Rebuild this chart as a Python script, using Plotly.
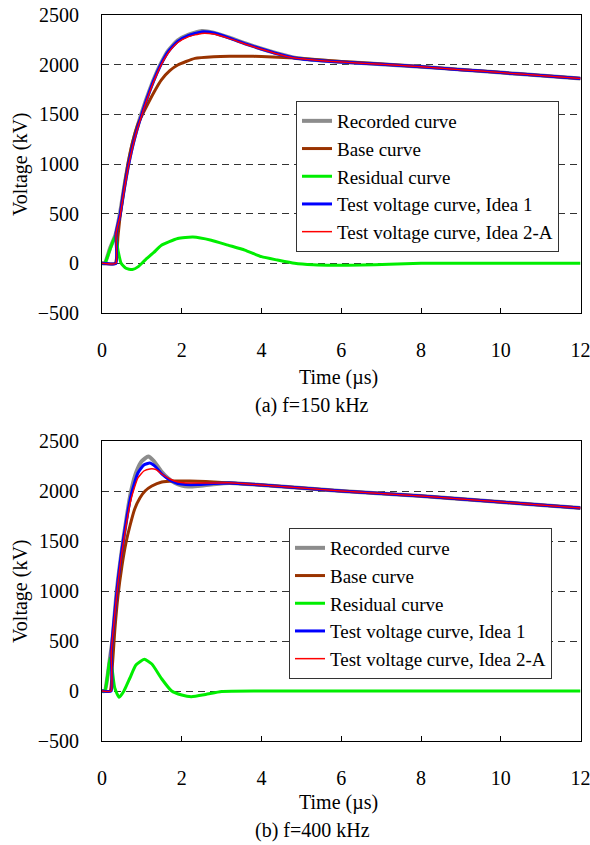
import plotly.graph_objects as go

FONT = "Liberation Serif, Times New Roman, serif"
W, H = 590, 845    # figure size (page body margin removed below)

# ---------------- (a) f = 150 kHz ----------------
a_rec_t = [0, 0.07, 0.2, 0.34, 0.45, 0.55, 0.66, 0.8, 1.0, 1.2, 1.37, 1.5, 1.66, 1.9, 2.16, 2.5, 2.8, 3.2, 3.6, 4.0, 4.4, 4.83, 5.5, 6, 7, 8, 9, 10, 11, 12]
a_rec_v = [0, 0, 150, 290, 500, 750, 1000, 1250, 1520, 1750, 1920, 2030, 2140, 2245, 2300, 2338, 2322, 2272, 2213, 2160, 2113, 2070, 2042, 2028, 2005, 1980, 1950, 1920, 1890, 1860]

a_base_t = [0, 0.33, 0.4, 0.45, 0.55, 0.66, 0.76, 0.9, 1.08, 1.3, 1.49, 1.7, 1.9, 2.33, 2.8, 3.2, 3.6, 4.0, 4.83, 5.5, 6, 7, 8, 9, 10, 11, 12]
a_base_v = [0, 0, 270, 460, 750, 1020, 1210, 1400, 1550, 1720, 1847, 1940, 1997, 2063, 2080, 2085, 2085, 2082, 2067, 2048, 2033, 2006, 1980, 1950, 1920, 1890, 1860]

a_res_t = [0, 0.07, 0.2, 0.34, 0.4, 0.48, 0.6, 0.76, 0.91, 1.08, 1.3, 1.49, 1.9, 2.28, 2.74, 3.16, 3.58, 4.0, 4.4, 4.83, 5.3, 5.8, 6.5, 7.2, 8, 9, 10, 11, 12]
a_res_v = [0, 0, 140, 280, 133, 0, -50, -63, -33, 33, 110, 183, 250, 265, 233, 183, 133, 67, 33, 0, -15, -20, -18, -8, 0, 0, 0, 0, 0]

a_id1_t = [0, 0.35, 0.35, 0.45, 0.55, 0.66, 0.8, 1.0, 1.2, 1.37, 1.5, 1.66, 1.9, 2.16, 2.5, 2.8, 3.2, 3.6, 4.0, 4.4, 4.83, 5.5, 6, 7, 8, 9, 10, 11, 12]
a_id1_v = [0, 0, 300, 480, 730, 980, 1230, 1505, 1740, 1910, 2020, 2130, 2235, 2292, 2330, 2318, 2268, 2210, 2158, 2110, 2068, 2040, 2026, 2004, 1979, 1950, 1920, 1890, 1860]

a_id2_t = [0, 0.35, 0.35, 0.45, 0.55, 0.66, 0.8, 1.0, 1.2, 1.37, 1.5, 1.66, 1.9, 2.16, 2.5, 2.8, 3.2, 3.6, 4.0, 4.4, 4.83, 5.5, 6, 7, 8, 9, 10, 11, 12]
a_id2_v = [0, 0, 300, 470, 720, 970, 1220, 1495, 1730, 1900, 2010, 2118, 2223, 2280, 2315, 2308, 2262, 2206, 2155, 2108, 2067, 2040, 2026, 2004, 1979, 1950, 1920, 1890, 1860]

# ---------------- (b) f = 400 kHz ----------------
b_rec_t = [0, 0.07, 0.14, 0.2, 0.26, 0.37, 0.53, 0.73, 0.87, 1.0, 1.16, 1.3, 1.49, 1.65, 1.83, 2.0, 2.16, 2.4, 2.8, 3.2, 4, 5, 6, 7, 8, 9, 10, 11, 12]
b_rec_v = [0, 0, 150, 330, 500, 1000, 1500, 2000, 2200, 2300, 2345, 2300, 2195, 2130, 2080, 2055, 2045, 2050, 2068, 2080, 2060, 2030, 2000, 1975, 1950, 1920, 1890, 1860, 1830]

b_base_t = [0, 0.2, 0.26, 0.32, 0.4, 0.5, 0.6, 0.7, 0.82, 0.95, 1.08, 1.25, 1.5, 1.8, 2.2, 2.6, 3.2, 4, 5, 6, 7, 8, 9, 10, 11, 12]
b_base_v = [0, 0, 250, 600, 950, 1250, 1480, 1650, 1820, 1930, 2000, 2050, 2090, 2100, 2100, 2095, 2080, 2060, 2030, 2000, 1975, 1950, 1920, 1890, 1860, 1830]

b_res_t = [0, 0.07, 0.14, 0.2, 0.26, 0.32, 0.43, 0.55, 0.7, 0.85, 1.06, 1.25, 1.5, 1.74, 2.0, 2.24, 2.6, 3.0, 4, 12]
b_res_v = [0, 0, 150, 330, 200, 30, -63, 0, 130, 260, 317, 270, 120, 3, -40, -57, -35, -5, 0, 0]

b_id1_t = [0, 0.23, 0.23, 0.3, 0.4, 0.55, 0.73, 0.9, 1.05, 1.2, 1.35, 1.5, 1.7, 1.9, 2.1, 2.4, 2.8, 3.2, 4, 5, 6, 7, 8, 9, 10, 11, 12]
b_id1_v = [0, 0, 380, 700, 1100, 1550, 1960, 2180, 2260, 2280, 2240, 2170, 2110, 2075, 2065, 2065, 2075, 2080, 2060, 2030, 2000, 1975, 1950, 1920, 1890, 1860, 1830]

b_id2_t = [0, 0.23, 0.23, 0.3, 0.4, 0.55, 0.73, 0.9, 1.05, 1.2, 1.35, 1.5, 1.7, 1.9, 2.1, 2.4, 2.8, 3.2, 4, 5, 6, 7, 8, 9, 10, 11, 12]
b_id2_v = [0, 0, 380, 680, 1080, 1520, 1920, 2130, 2200, 2220, 2215, 2170, 2120, 2090, 2080, 2080, 2080, 2082, 2060, 2030, 2000, 1975, 1950, 1920, 1890, 1860, 1830]

names = ["Recorded curve", "Base curve", "Residual curve",
         "Test voltage curve, Idea 1", "Test voltage curve, Idea 2-A"]
colors = ["#8c8c8c", "#993300", "#00ee00", "#0000ff", "#ff0000"]
widths = [4, 3, 3, 3, 1.5]

y_ticks = [-500, 0, 500, 1000, 1500, 2000, 2500]
x_ticks = [0, 2, 4, 6, 8, 10, 12]

panel_a = [(a_rec_t, a_rec_v), (a_base_t, a_base_v), (a_res_t, a_res_v),
           (a_id1_t, a_id1_v), (a_id2_t, a_id2_v)]
panel_b = [(b_rec_t, b_rec_v), (b_base_t, b_base_v), (b_res_t, b_res_v),
           (b_id1_t, b_id1_v), (b_id2_t, b_id2_v)]

fig = go.Figure()
for panel, xa, ya, leg in [(panel_a, "x", "y", "legend"), (panel_b, "x2", "y2", "legend2")]:
    for (t, v), nm, c, w in zip(panel, names, colors, widths):
        fig.add_trace(go.Scatter(x=t, y=v, mode="lines", name=nm,
                                 line=dict(color=c, width=w, shape="spline", smoothing=0.5),
                                 xaxis=xa, yaxis=ya, legend=leg))

def px_x(px):
    return px / W

def px_y(py):
    return 1 - py / H

x_dom = [px_x(102), px_x(580.5)]
axis_common = dict(showline=True, linecolor="black", linewidth=1, mirror=True,
                   zeroline=False, automargin=False, ticklabeloverflow="allow",
                   tickfont=dict(family=FONT, size=20, color="black"))
xa = dict(axis_common, range=[0, 12], tickvals=x_ticks, showgrid=False,
          ticks="inside", ticklen=5, tickcolor="black", ticklabelstandoff=19)
ya = dict(axis_common, range=[-500, 2500], tickvals=y_ticks, showgrid=True,
          gridcolor="#333333", gridwidth=1, griddash="7px,5px", ticks="",
          ticklabelstandoff=18)

leg_common = dict(xanchor="left", yanchor="top", bgcolor="white",
                  bordercolor="#333333", borderwidth=1,
                  font=dict(family=FONT, size=19, color="black"))

fig.update_layout(
    width=W, height=H, margin=dict(l=0, r=0, t=0, b=0, autoexpand=False),
    paper_bgcolor="white", plot_bgcolor="white",
    font=dict(family=FONT, size=20, color="black"),
    xaxis=dict(xa, domain=x_dom, anchor="y"),
    yaxis=dict(ya, domain=[px_y(313), px_y(15)], anchor="x"),
    xaxis2=dict(xa, domain=x_dom, anchor="y2"),
    yaxis2=dict(ya, domain=[px_y(741), px_y(441)], anchor="x2"),
    legend=dict(leg_common, x=px_x(296), y=px_y(101)),
    legend2=dict(leg_common, x=px_x(289), y=px_y(528)),
    showlegend=True,
)

annots = [
    ("Time (µs)", 338, 377, 0),
    ("(a) f=150 kHz", 312, 405, 0),
    ("Time (µs)", 338, 802, 0),
    ("(b) f=400 kHz", 312, 830, 0),
    ("Voltage (kV)", 20, 164, -90),
    ("Voltage (kV)", 20, 591, -90),
]
for txt, x, y, ang in annots:
    fig.add_annotation(text=txt, x=px_x(x), y=px_y(y), xref="paper", yref="paper",
                       showarrow=False, textangle=ang, xanchor="center", yanchor="middle",
                       font=dict(family=FONT, size=20, color="black"))

fig.write_html("out.html", config={"displayModeBar": False},
               post_script="document.body.style.margin='0px';")
